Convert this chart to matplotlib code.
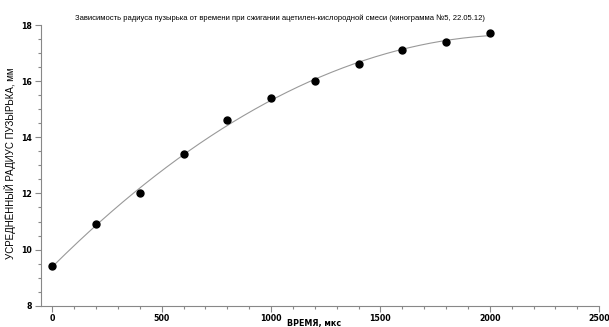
import matplotlib
matplotlib.use("Agg")
import matplotlib.pyplot as plt
import numpy as np
from matplotlib.ticker import MultipleLocator

# Data
time_us = [0, 200, 400, 600, 800, 1000, 1200, 1400, 1600, 1800, 2000]
radius_mm = [9.4, 10.9, 12.0, 13.4, 14.6, 15.4, 16.0, 16.6, 17.1, 17.4, 17.7]

title = "Зависимость радиуса пузырька от времени при сжигании ацетилен-кислородной смеси (кинограмма №5, 22.05.12)"
xlabel = "ВРЕМЯ, мкс"
ylabel = "УСРЕДНЁННЫЙ РАДИУС ПУЗЫРЬКА, мм"

plt.rcParams['font.family'] = ['Liberation Sans', 'DejaVu Sans']

fig = plt.figure(figsize=(6.09, 3.27), dpi=100)
ax = fig.add_axes([0.0668, 0.0651, 0.917, 0.8584])

# Smooth trend line (quadratic fit through the points)
coef = np.polyfit(time_us, radius_mm, 2)
xs = np.linspace(min(time_us), max(time_us), 200)
ax.plot(xs, np.polyval(coef, xs), color='#999999', linewidth=0.8, zorder=1)
ax.plot(time_us, radius_mm, 'o', color='black', markersize=5, zorder=2)

ax.set_xlim(-53, 2500)
ax.set_ylim(8, 18)
ax.xaxis.set_major_locator(MultipleLocator(500))
ax.xaxis.set_minor_locator(MultipleLocator(100))
ax.yaxis.set_major_locator(MultipleLocator(2))
ax.yaxis.set_minor_locator(MultipleLocator(0.5))

for s in ['top', 'right']:
    ax.spines[s].set_visible(False)
for s in ['left', 'bottom']:
    ax.spines[s].set_color('#888888')
    ax.spines[s].set_linewidth(0.8)
ax.tick_params(which='both', colors='#888888', labelcolor='black', width=0.8)
ax.tick_params(which='major', length=4, labelsize=5.7, pad=2)
ax.tick_params(which='minor', length=2)
for lbl in ax.get_xticklabels() + ax.get_yticklabels():
    lbl.set_fontweight('bold')
    lbl.set_family('DejaVu Sans')

# Axis labels and title placed in figure coordinates
fig.text(0.516, 0.012, xlabel, fontsize=5.8, fontweight='bold', family='DejaVu Sans',
         ha='center', va='center')
fig.text(0.0164, 0.50, ylabel, fontsize=7, rotation=90, ha='center', va='center')
fig.text(0.46, 0.945, title, fontsize=5.5, ha='center', va='center')

fig.savefig("out.png", dpi=100)
